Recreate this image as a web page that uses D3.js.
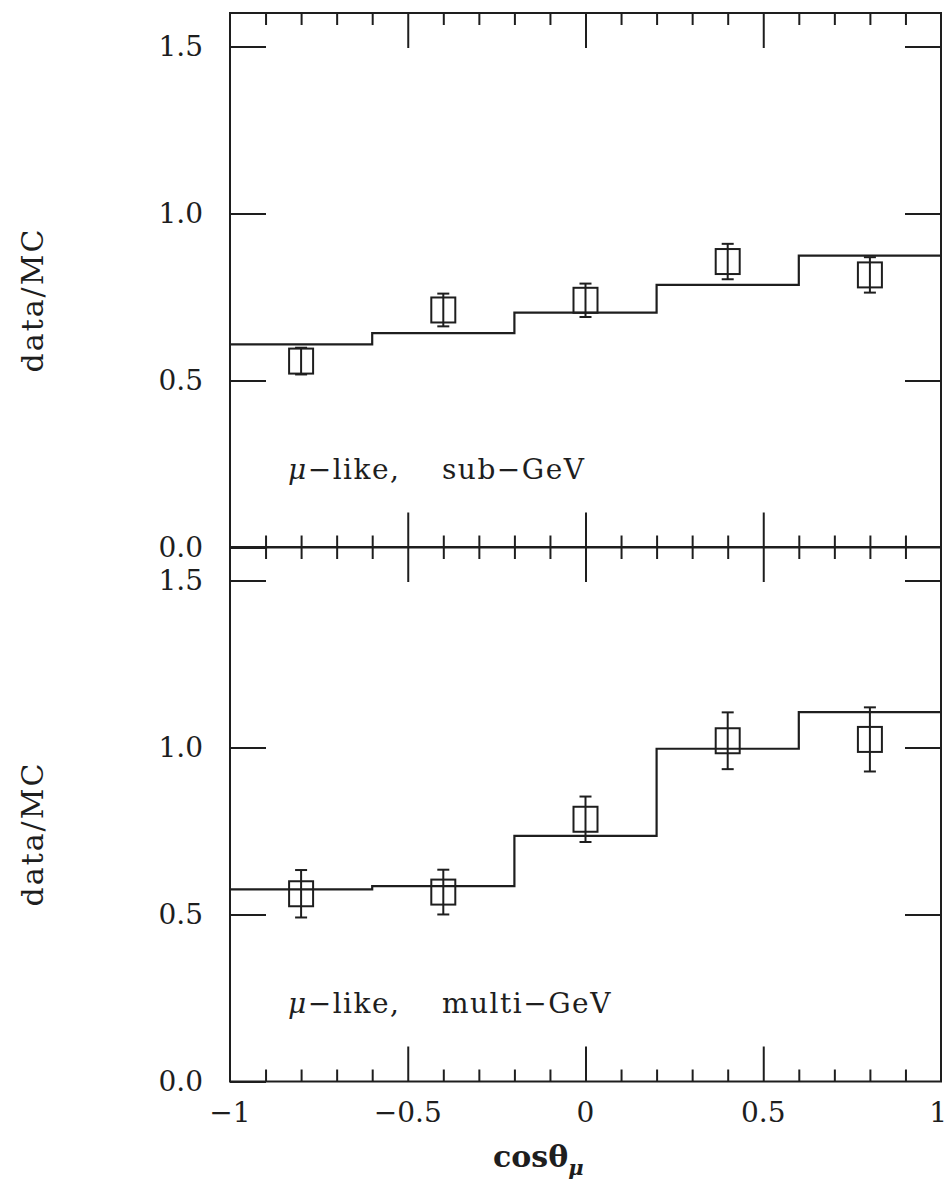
<!DOCTYPE html>
<html>
<head>
<meta charset="utf-8">
<script src="https://cdn.jsdelivr.net/npm/d3@7"></script>
<style>
  body { margin: 0; background: #fff; }
  svg { display: block; }
  text { font-family: "DejaVu Serif", "Liberation Serif", serif; fill: #1e1e1e; }
</style>
</head>
<body>
<svg width="948" height="1179"></svg>
<script>
// Data: bin edges, MC ratio histogram, data points with errors.
const binEdges = [-1, -0.6, -0.2, 0.2, 0.6, 1];
const pointX = [-0.8, -0.4, 0, 0.4, 0.8];

const subMC = [0.608, 0.642, 0.703, 0.786, 0.874];
const subData = [0.558, 0.711, 0.740, 0.856, 0.816];
const subErr = [0.040, 0.049, 0.050, 0.053, 0.053];

const multiMC = [0.575, 0.585, 0.735, 0.996, 1.106];
const multiData = [0.562, 0.567, 0.785, 1.020, 1.024];
const multiErr = [0.071, 0.067, 0.068, 0.085, 0.096];

const xTickLabels = [-1, -0.5, 0, 0.5, 1];
const yTickLabels = [0, 0.5, 1.0, 1.5];
const xMajor = [-0.5, 0, 0.5];
const xMinor = [-0.9, -0.8, -0.7, -0.6, -0.4, -0.3, -0.2, -0.1, 0.1, 0.2, 0.3, 0.4, 0.6, 0.7, 0.8, 0.9];

// Layout
const svg = d3.select("svg");
const ink = "#1e1e1e";
const left = 230, right = 941;
const panelTop = [13, 547];
const panelH = 534.5;
const yMax = 1.6;

const xScale = d3.scaleLinear().domain([-1, 1]).range([left, right]);

const panels = [
  { top: panelTop[0], mc: subMC, data: subData, err: subErr, label: "sub\u2212GeV" },
  { top: panelTop[1], mc: multiMC, data: multiData, err: multiErr, label: "multi\u2212GeV" }
];

panels.forEach((p, pi) => {
  const yScale = d3.scaleLinear().domain([0, yMax]).range([p.top + panelH, p.top]);
  const g = svg.append("g");

  // Frame
  g.append("rect")
   .attr("x", left).attr("y", p.top)
   .attr("width", right - left).attr("height", panelH)
   .attr("fill", "none").attr("stroke", ink).attr("stroke-width", 2);

  // X ticks, top and bottom edges (inward)
  const tickSets = [
    { vals: xMinor, len: 12 },
    { vals: xMajor, len: 35 }
  ];
  tickSets.forEach(t => {
    g.append("g")
     .attr("transform", `translate(0,${p.top})`)
     .call(d3.axisTop(xScale).tickValues(t.vals).tickSize(-t.len).tickFormat(""))
     .call(a => a.select(".domain").remove());
    g.append("g")
     .attr("transform", `translate(0,${p.top + panelH})`)
     .call(d3.axisBottom(xScale).tickValues(t.vals).tickSize(-t.len).tickFormat(""))
     .call(a => a.select(".domain").remove());
  });

  // Y ticks left with labels, and right
  g.append("g")
   .attr("class", "y-axis")
   .attr("transform", `translate(${left},0)`)
   .call(d3.axisLeft(yScale).tickValues(yTickLabels).tickSize(-36).tickPadding(27).tickFormat(d3.format(".1f")))
   .call(a => a.select(".domain").remove());
  g.append("g")
   .attr("transform", `translate(${right},0)`)
   .call(d3.axisRight(yScale).tickValues([0.5, 1.0, 1.5]).tickSize(-36).tickFormat(""))
   .call(a => a.select(".domain").remove());

  g.selectAll(".tick line").attr("stroke", ink).attr("stroke-width", 2);
  g.selectAll(".y-axis text")
   .attr("font-size", 28)
   .attr("fill", ink)
   .style("font-family", "DejaVu Serif");

  // MC histogram (step)
  const steps = binEdges.map((e, i) => [e, p.mc[Math.min(i, p.mc.length - 1)]]);
  g.append("path")
   .datum(steps)
   .attr("fill", "none").attr("stroke", ink).attr("stroke-width", 2.2)
   .attr("d", d3.line().x(d => xScale(d[0])).y(d => yScale(d[1])).curve(d3.curveStepAfter));

  // Data points: error bars with caps, open squares
  const pts = pointX.map((x, i) => ({ x, y: p.data[i], e: p.err[i] }));
  const pg = g.selectAll(".pt").data(pts).enter().append("g").attr("class", "pt");
  pg.append("line")
    .attr("x1", d => xScale(d.x)).attr("x2", d => xScale(d.x))
    .attr("y1", d => yScale(d.y - d.e)).attr("y2", d => yScale(d.y + d.e))
    .attr("stroke", ink).attr("stroke-width", 2);
  [1, -1].forEach(s => {
    pg.append("line")
      .attr("x1", d => xScale(d.x) - 6).attr("x2", d => xScale(d.x) + 6)
      .attr("y1", d => yScale(d.y + s * d.e)).attr("y2", d => yScale(d.y + s * d.e))
      .attr("stroke", ink).attr("stroke-width", 2);
  });
  pg.append("rect")
    .attr("x", d => xScale(d.x) - 12).attr("y", d => yScale(d.y) - 12.5)
    .attr("width", 24).attr("height", 25)
    .attr("fill", "none").attr("stroke", ink).attr("stroke-width", 2);

  // Panel label
  const ly = p.top + panelH - 69;
  const lab = g.append("text").attr("x", 288).attr("y", ly)
               .attr("font-size", 28).attr("letter-spacing", 1.5);
  lab.append("tspan").attr("font-style", "italic").text("\u03bc");
  lab.append("tspan").text("\u2212like,");
  g.append("text").attr("x", 442).attr("y", ly)
   .attr("font-size", 28).attr("letter-spacing", 1.5)
   .text(p.label);

  // Y title
  g.append("text")
   .attr("transform", `translate(43,${p.top + 287}) rotate(-90)`)
   .attr("text-anchor", "middle")
   .attr("font-size", 30).attr("letter-spacing", 2)
   .text("data/MC");

  // X tick labels on bottom panel only
  if (pi === 1) {
    g.selectAll(".xlab").data(xTickLabels).enter().append("text")
     .attr("x", d => d === 1 ? 947 : xScale(d))
     .attr("y", 1122)
     .attr("text-anchor", d => d === 1 ? "end" : "middle")
     .attr("font-size", 28)
     .text(d => (d < 0 ? "\u2212" : "") + Math.abs(d));

    const t = g.append("text")
               .attr("x", 493).attr("y", 1167)
               .attr("font-size", 30).attr("font-weight", "bold");
    t.append("tspan").text("cos\u03b8");
    t.append("tspan").attr("dy", 8).attr("font-size", 21).attr("font-style", "italic").text("\u03bc");
  }
});
</script>
</body>
</html>
